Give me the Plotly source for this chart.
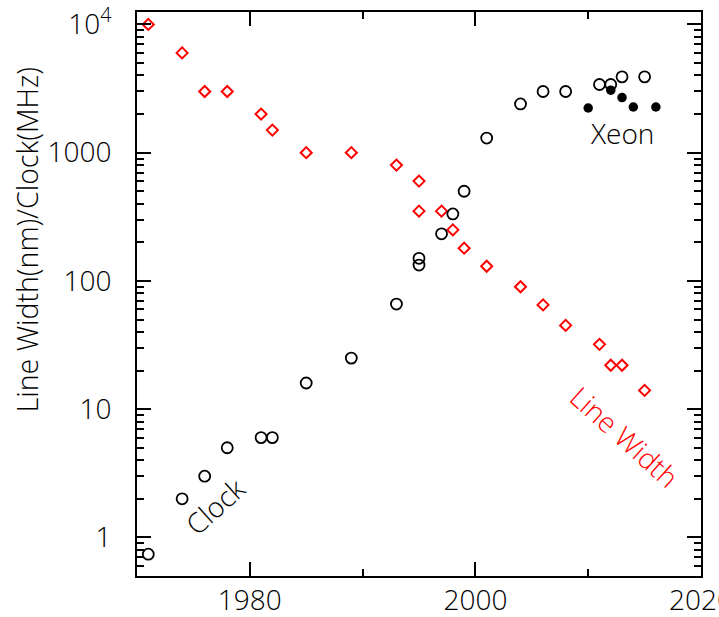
import plotly.graph_objects as go
import math

# ---- data ----
lw_years = [1971, 1974, 1976, 1978, 1981, 1982, 1985, 1989, 1993, 1995, 1995,
            1997, 1998, 1999, 2001, 2004, 2006, 2008, 2011, 2012, 2013, 2015]
lw_nm = [10000, 6000, 3000, 3000, 2000, 1500, 1000, 1000, 800, 600, 350,
         350, 250, 180, 130, 90, 65, 45, 32, 22, 22, 14]

clk_years = [1971, 1974, 1976, 1978, 1981, 1982, 1985, 1989, 1993, 1995, 1995,
             1997, 1998, 1999, 2001, 2004, 2006, 2008, 2011, 2012, 2013, 2015]
clk_mhz = [0.74, 2, 3, 5, 6, 6, 16, 25, 66, 150, 133,
           233, 333, 500, 1300, 2400, 3000, 3000, 3400, 3400, 3900, 3900]

xeon_years = [2010, 2012, 2013, 2014, 2016]
xeon_mhz = [2230, 3070, 2690, 2270, 2270]

y_tickvals = [1, 10, 100, 1000, 10000]
y_ticktext = ["1", "10", "100", "1000", "10<sup>4</sup>"]
x_range = [1970, 2020]
y_range = [0.5, 12500]

FONT = "Open Sans"
W = 300

fig = go.Figure()
fig.add_trace(go.Scatter(
    x=lw_years, y=lw_nm, mode="markers", name="Line Width",
    marker=dict(symbol="diamond-open", size=8.5, color="#ff0000",
                line=dict(width=2, color="#ff0000"))))
fig.add_trace(go.Scatter(
    x=clk_years, y=clk_mhz, mode="markers", name="Clock",
    marker=dict(symbol="circle-open", size=11, color="black",
                line=dict(width=1.8, color="black"))))
fig.add_trace(go.Scatter(
    x=xeon_years, y=xeon_mhz, mode="markers", name="Xeon",
    marker=dict(symbol="circle", size=9.5, color="black",
                line=dict(width=0))))

fig.update_layout(
    width=719, height=617, autosize=False,
    margin=dict(l=137, r=18, t=12, b=41, autoexpand=False),
    paper_bgcolor="white", plot_bgcolor="white",
    showlegend=False,
    font=dict(family=FONT, size=26, color="black", weight=W),
)

fig.update_xaxes(
    range=x_range, tickmode="linear", tick0=1980, dtick=20,
    ticks="inside", ticklen=14, tickwidth=1.5, tickcolor="black",
    minor=dict(ticks="inside", ticklen=7, tickwidth=1.5, tickcolor="black",
               dtick=10, tick0=1970, showgrid=False),
    showline=True, linewidth=2, linecolor="black", mirror="allticks",
    showgrid=False, zeroline=False, ticklabeloverflow="allow",
    ticklabelstandoff=-2, automargin=False,
    tickfont=dict(family=FONT, size=28, color="black", weight=W),
)
fig.update_yaxes(
    type="log", range=[math.log10(y_range[0]), math.log10(y_range[1])],
    tickmode="array", tickvals=y_tickvals, ticktext=y_ticktext,
    ticks="inside", ticklen=14, tickwidth=1.5, tickcolor="black",
    minor=dict(ticks="inside", ticklen=7, tickwidth=1.5, tickcolor="black",
               dtick="D1", showgrid=False),
    showline=True, linewidth=2, linecolor="black", mirror="allticks",
    showgrid=False, zeroline=False, ticklabeloverflow="allow",
    ticklabelstandoff=18, automargin=False,
    tickfont=dict(family=FONT, size=28, color="black", weight=W),
)

# axis title (placed as annotation to match off-centre position)
fig.add_annotation(text="Line Width(nm)/Clock(MHz)", xref="paper", yref="paper",
                   x=-0.196, y=0.596, xanchor="center", yanchor="middle",
                   textangle=-90, showarrow=False,
                   font=dict(family=FONT, size=28.5, color="black", weight=W))
fig.add_annotation(text="Clock", x=1976.9, y=0.248, textangle=-42, showarrow=False,
                   font=dict(family=FONT, size=28, color="black", weight=W))
fig.add_annotation(text="Xeon", x=2013.0, y=3.153, showarrow=False,
                   font=dict(family=FONT, size=28, color="black", weight=W))
fig.add_annotation(text="Line Width", x=2013.3, y=0.786, textangle=42, showarrow=False,
                   font=dict(family=FONT, size=28, color="#ff0000", weight=W))

fig.write_html("out.html")
